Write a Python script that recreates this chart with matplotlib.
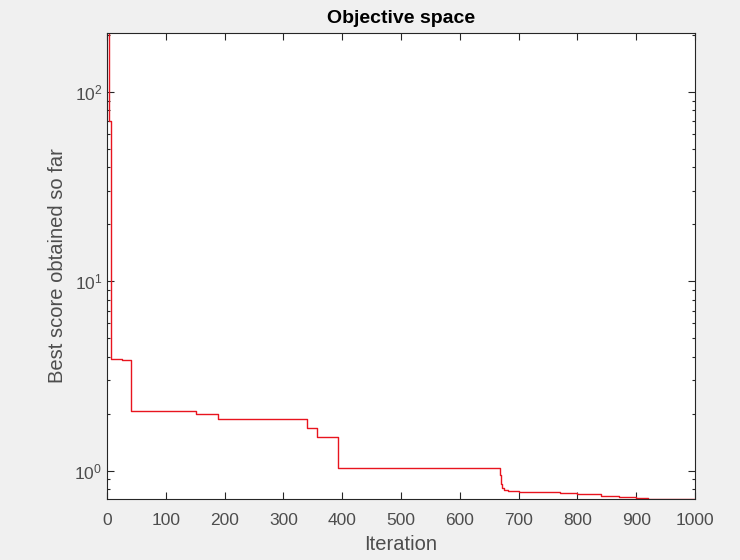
import matplotlib.pyplot as plt
from matplotlib.ticker import LogLocator, FixedLocator

plt.rcParams['font.family'] = ['Liberation Sans', 'DejaVu Sans']
plt.rcParams['mathtext.fontset'] = 'custom'
plt.rcParams['mathtext.rm'] = 'Liberation Sans'
plt.rcParams['mathtext.it'] = 'Liberation Sans:italic'
plt.rcParams['mathtext.bf'] = 'Liberation Sans:bold'

# Iterations where the best score changes, and the score from that point on
iters = [1, 3, 6, 25, 40, 152, 188, 340, 357, 393, 668, 670, 672, 676, 682,
         700, 770, 800, 840, 870, 900, 920, 1000]
scores = [250, 70, 3.9, 3.85, 2.07, 1.99, 1.87, 1.69, 1.50, 1.04, 0.95, 0.85,
          0.81, 0.795, 0.785, 0.775, 0.76, 0.75, 0.74, 0.725, 0.715, 0.71, 0.71]

xticks = [0, 100, 200, 300, 400, 500, 600, 700, 800, 900, 1000]

fig = plt.figure(figsize=(7.4, 5.6), dpi=100, facecolor='#f0f0f0')
ax = fig.add_axes([0.1446, 0.109, 0.7946, 0.832])

ax.step(iters, scores, where='post', color='#e8141e', linewidth=1.0)

ax.set_yscale('log')
ax.set_xlim(0, 1000)
ax.set_ylim(0.71, 205)
ax.xaxis.set_major_locator(FixedLocator(xticks))
ax.yaxis.set_major_locator(LogLocator(base=10, numticks=10))
ax.yaxis.set_minor_locator(LogLocator(base=10, subs=range(2, 10), numticks=20))
ax.yaxis.set_minor_formatter(plt.NullFormatter())

ax.tick_params(which='both', direction='in', top=True, right=True,
               color='#262626', labelcolor='#4d4d4d', labelsize=12.5)
ax.tick_params(which='major', length=5, width=0.8)
ax.tick_params(which='minor', length=2.5, width=0.8)
ax.tick_params(axis='x', pad=10)
for s in ax.spines.values():
    s.set_color('#262626')
    s.set_linewidth(0.8)

ax.set_title('Objective space', fontsize=14, fontweight='bold', pad=7)
ax.set_xlabel('Iteration', fontsize=14.5, color='#4d4d4d', labelpad=5)
ax.set_ylabel('Best score obtained so far', fontsize=14.5, color='#4d4d4d', labelpad=5)

plt.savefig('out.png', dpi=100, facecolor=fig.get_facecolor())
